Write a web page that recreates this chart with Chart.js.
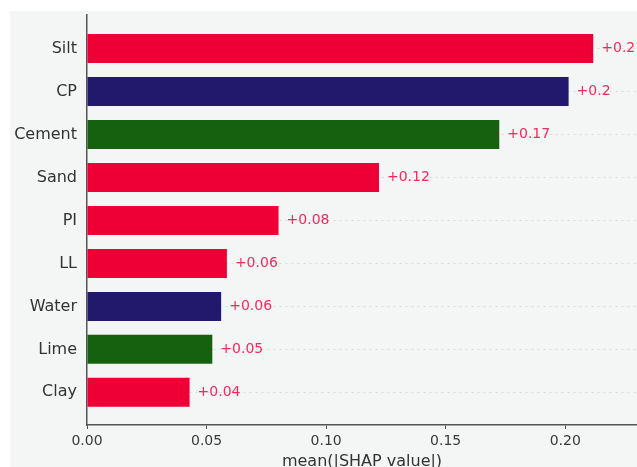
<!DOCTYPE html>
<html>
<head>
<meta charset="utf-8">
<script src="https://cdn.jsdelivr.net/npm/chart.js@4"></script>
<style>
  html, body { margin: 0; padding: 0; background: #ffffff; }
  #wrap { width: 637px; height: 467px; }
</style>
</head>
<body>
<div id="wrap"><canvas id="chart" width="637" height="467"></canvas></div>
<script>
// Mean absolute SHAP value per input feature, most important first
const features = ['Silt', 'CP', 'Cement', 'Sand', 'PI', 'LL', 'Water', 'Lime', 'Clay'];
const meanAbsShap = [0.2117, 0.2014, 0.1724, 0.1221, 0.0801, 0.0585, 0.0561, 0.0524, 0.0429];
const barColors = ['#ee0036', '#22186c', '#156110', '#ee0036', '#ee0036', '#ee0036', '#22186c', '#156110', '#ee0036'];
const xTicks = [0.00, 0.05, 0.10, 0.15, 0.20];

// "+0.17" style label, trailing zeros dropped ("+0.2")
function formatValue(v) {
  let s = v.toFixed(2).replace(/0+$/, '').replace(/\.$/, '');
  return (v >= 0 ? '+' : '') + s;
}

const FONT = '"DejaVu Sans", "Liberation Sans", sans-serif';

const panelBackground = {
  id: 'panelBackground',
  beforeDraw(chart) {
    const { ctx, width, height } = chart;
    ctx.save();
    ctx.fillStyle = '#ffffff';
    ctx.fillRect(0, 0, width, height);
    ctx.fillStyle = '#f4f5f5';
    ctx.fillRect(10, 11, width - 10, height - 11);
    ctx.restore();
  }
};

const valueLabels = {
  id: 'valueLabels',
  afterDatasetsDraw(chart) {
    const { ctx } = chart;
    const meta = chart.getDatasetMeta(0);
    ctx.save();
    ctx.font = '14px ' + FONT;
    ctx.fillStyle = '#f22a5e';
    ctx.textAlign = 'left';
    ctx.textBaseline = 'middle';
    meta.data.forEach((bar, i) => {
      ctx.fillText(formatValue(meanAbsShap[i]), bar.x + 8, bar.y);
    });
    ctx.restore();
  }
};

new Chart(document.getElementById('chart'), {
  type: 'bar',
  data: {
    datasets: [{
      data: meanAbsShap.map((v, i) => ({ x: v, y: i })),
      backgroundColor: barColors,
      borderWidth: 0,
      categoryPercentage: 1.0,
      barPercentage: 0.675
    }]
  },
  options: {
    indexAxis: 'y',
    responsive: false,
    devicePixelRatio: 1,
    animation: false,
    layout: { padding: { top: 15, left: 0, right: 0, bottom: 0 } },
    plugins: {
      legend: { display: false },
      tooltip: { enabled: false }
    },
    scales: {
      x: {
        type: 'linear',
        position: 'bottom',
        min: 0,
        max: 0.23,
        afterBuildTicks: s => { s.ticks = xTicks.map(v => ({ value: v })); },
        afterFit: s => { s.height = 42; },
        ticks: {
          callback: v => Number(v).toFixed(2),
          font: { family: FONT, size: 14 },
          color: '#3a3a3a',
          padding: 4,
          maxRotation: 0
        },
        grid: {
          display: true,
          drawOnChartArea: false,
          drawTicks: true,
          tickLength: 4,
          color: '#555555'
        },
        border: { display: true, color: '#555555', width: 1.5 },
        title: {
          display: true,
          text: 'mean(|SHAP value|)',
          color: '#333333',
          font: { family: FONT, size: 16, lineHeight: 0.6 },
          padding: 0
        }
      },
      y: {
        type: 'linear',
        position: 'left',
        reverse: true,
        offset: false,
        min: -0.78,
        max: 8.76,
        afterBuildTicks: s => { s.ticks = features.map((_, i) => ({ value: i })); },
        afterFit: s => { s.width = 87; s.paddingTop = 0; s.paddingBottom = 0; },
        ticks: {
          callback: v => features[v],
          font: { family: FONT, size: 16 },
          color: '#333333',
          padding: 10
        },
        grid: {
          display: true,
          offset: false,
          drawTicks: false,
          color: '#dadada',
          lineWidth: 1
        },
        border: { display: true, color: '#555555', width: 1.5, dash: [2, 4] }
      }
    }
  },
  plugins: [panelBackground, valueLabels]
});
</script>
</body>
</html>
